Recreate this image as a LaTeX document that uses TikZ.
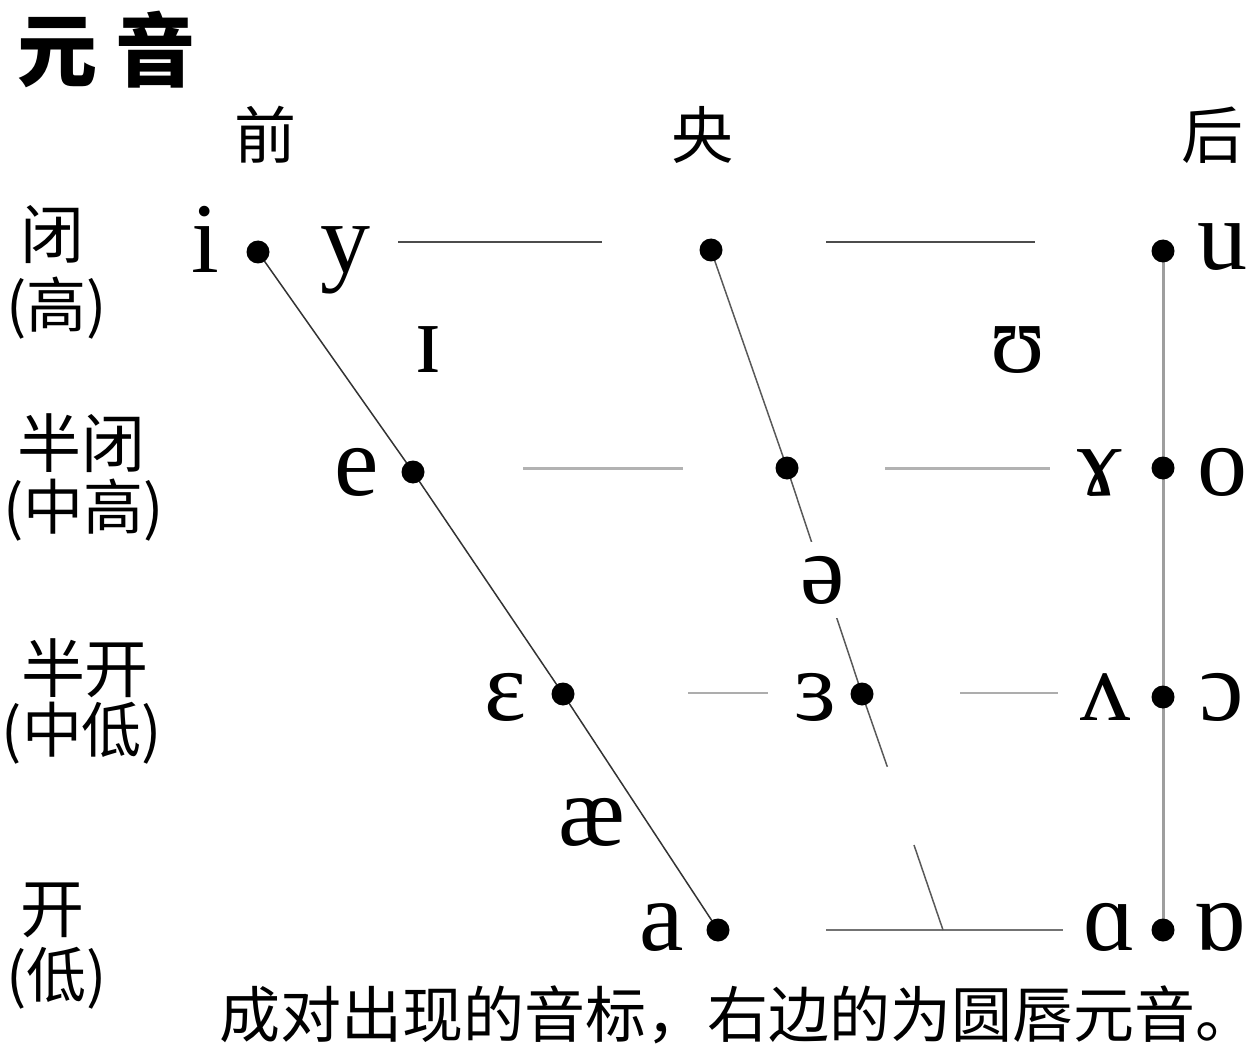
\documentclass[tikz,border=0pt]{standalone}
\usepackage{fontspec}
\setmainfont{Liberation Serif}
\newfontfamily\cjk{Noto Sans CJK SC}
\usetikzlibrary{calc}
\begin{document}
\begin{tikzpicture}[x=0.5pt,y=-0.5pt,
  ipa/.style={font=\fontsize{50}{60}\selectfont, inner sep=0pt, anchor=base},
  lab/.style={font=\cjk\fontsize{32}{38}\selectfont, inner sep=0pt},
  labp/.style={font=\cjk\fontsize{30}{36}\selectfont, inner sep=0pt},
  head/.style={font=\cjk\fontsize{31}{36}\selectfont, inner sep=0pt},
  dotn/.style={circle, fill=black, minimum size=11.5pt, inner sep=0pt},
  frontln/.style={draw=black!80, line width=0.75pt},
  centln/.style={draw=black!65, line width=0.75pt},
  darkh/.style={draw=black!70, line width=1pt},
  lighth/.style={draw=black!30, line width=1.5pt},
  lighth2/.style={draw=black!32, line width=1pt},
  midh/.style={draw=black!55, line width=1pt},
  vertln/.style={draw=black!38, line width=1.5pt}]
\useasboundingbox (0,0) rectangle (1260,1054);

% title
\node[font=\cjk\bfseries\fontsize{40}{46}\selectfont, inner sep=0pt] (title) at (107,50) {元\hspace{9pt}音};

% column headings
\node[head] (hfront) at (265,135) {前};
\node[head] (hcent) at (702,135) {央};
\node[head] (hback) at (1212,135) {后};

% row labels
\node[lab] (r1a) at (52,235) {闭};
\node[labp] (r1b) at (57,308) {(高)};
\node[lab] (r2a) at (82,443) {半闭};
\node[labp] (r2b) at (84,510) {(中高)};
\node[lab] (r3a) at (85,668) {半开};
\node[labp] (r3b) at (82,733) {(中低)};
\node[lab] (r4a) at (52,910) {开};
\node[labp] (r4b) at (57,978) {(低)};

% dots
\coordinate (di) at (258,252);
\coordinate (de) at (413,472);
\coordinate (deps) at (563,694);
\coordinate (da) at (718,930);
\coordinate (c1) at (711,250);
\coordinate (c2) at (787,468);
\coordinate (c3) at (862,694);
\coordinate (cend) at (943,930);
\coordinate (bu) at (1163,251);
\coordinate (bo) at (1163,468);
\coordinate (bc) at (1163,697);
\coordinate (bq) at (1163,930);

% horizontal guide lines
\coordinate (t1a) at (398,242); \coordinate (t1b) at (602,242);
\coordinate (t2a) at (826,242); \coordinate (t2b) at (1035,242);
\coordinate (m1a) at (523,468); \coordinate (m1b) at (683,468);
\coordinate (m2a) at (885,468); \coordinate (m2b) at (1050,468);
\coordinate (l1a) at (688,693); \coordinate (l1b) at (768,693);
\coordinate (l2a) at (960,693); \coordinate (l2b) at (1058,693);
\coordinate (b1a) at (826,930); \coordinate (b1b) at (1063,930);
\draw[darkh] (t1a) -- (t1b);
\draw[darkh] (t2a) -- (t2b);
\draw[lighth] (m1a) -- (m1b);
\draw[lighth] (m2a) -- (m2b);
\draw[lighth2] (l1a) -- (l1b);
\draw[lighth2] (l2a) -- (l2b);
\draw[midh] (b1a) -- (b1b);

% vertical back line
\draw[vertln] (bu) -- (bq);

% front diagonal
\draw[frontln] (di) -- (de) -- (deps) -- (da);

% central line with a gap
\coordinate (cg1) at ($(c1)!0.76!(cend)$);
\coordinate (cg2) at ($(c1)!0.875!(cend)$);
\draw[centln] (c1) -- (c2) -- (c3) -- (cg1);
\draw[centln] (cg2) -- (cend);

% dot nodes
\foreach \p/\n in {di/ni,de/ne,deps/neps,da/na,c1/nc1,c2/nc2,c3/nc3,bu/nu,bo/no,bc/nc,bq/nq}
  \node[dotn] (\n) at (\p) {};

% IPA letters
\node[ipa] (li) at (205,272) {i};
\node[ipa] (ly) at (345,272) {y};
\node[ipa] (lu) at (1222,270) {u};
\node[ipa] (lsi) at (428,372) {ɪ};
\node[ipa] (lup) at (1018,372) {ʊ};
\node[ipa] (le) at (357,495) {e};
\node[ipa] (lram) at (1100,495) {ɤ};
\node[ipa] (lo) at (1222,495) {o};
\node[ipa, fill=white, inner sep=7pt] (lschwa) at (823,603) {ə};
\node[ipa] (leps) at (505,720) {ɛ};
\node[ipa] (lrev) at (815,720) {ɜ};
\node[ipa] (lwedge) at (1105,720) {ʌ};
\node[ipa] (lopen) at (1222,720) {ɔ};
\node[ipa] (lae) at (592,845) {æ};
\node[ipa] (la) at (662,950) {a};
\node[ipa] (lalpha) at (1110,950) {ɑ};
\node[ipa] (lturn) at (1220,950) {ɒ};

% caption
\node[font=\cjk\fontsize{30.5}{36}\selectfont, inner sep=0pt] (cap) at (738,1015) {成对出现的音标，右边的为圆唇元音。};
\end{tikzpicture}
\end{document}
